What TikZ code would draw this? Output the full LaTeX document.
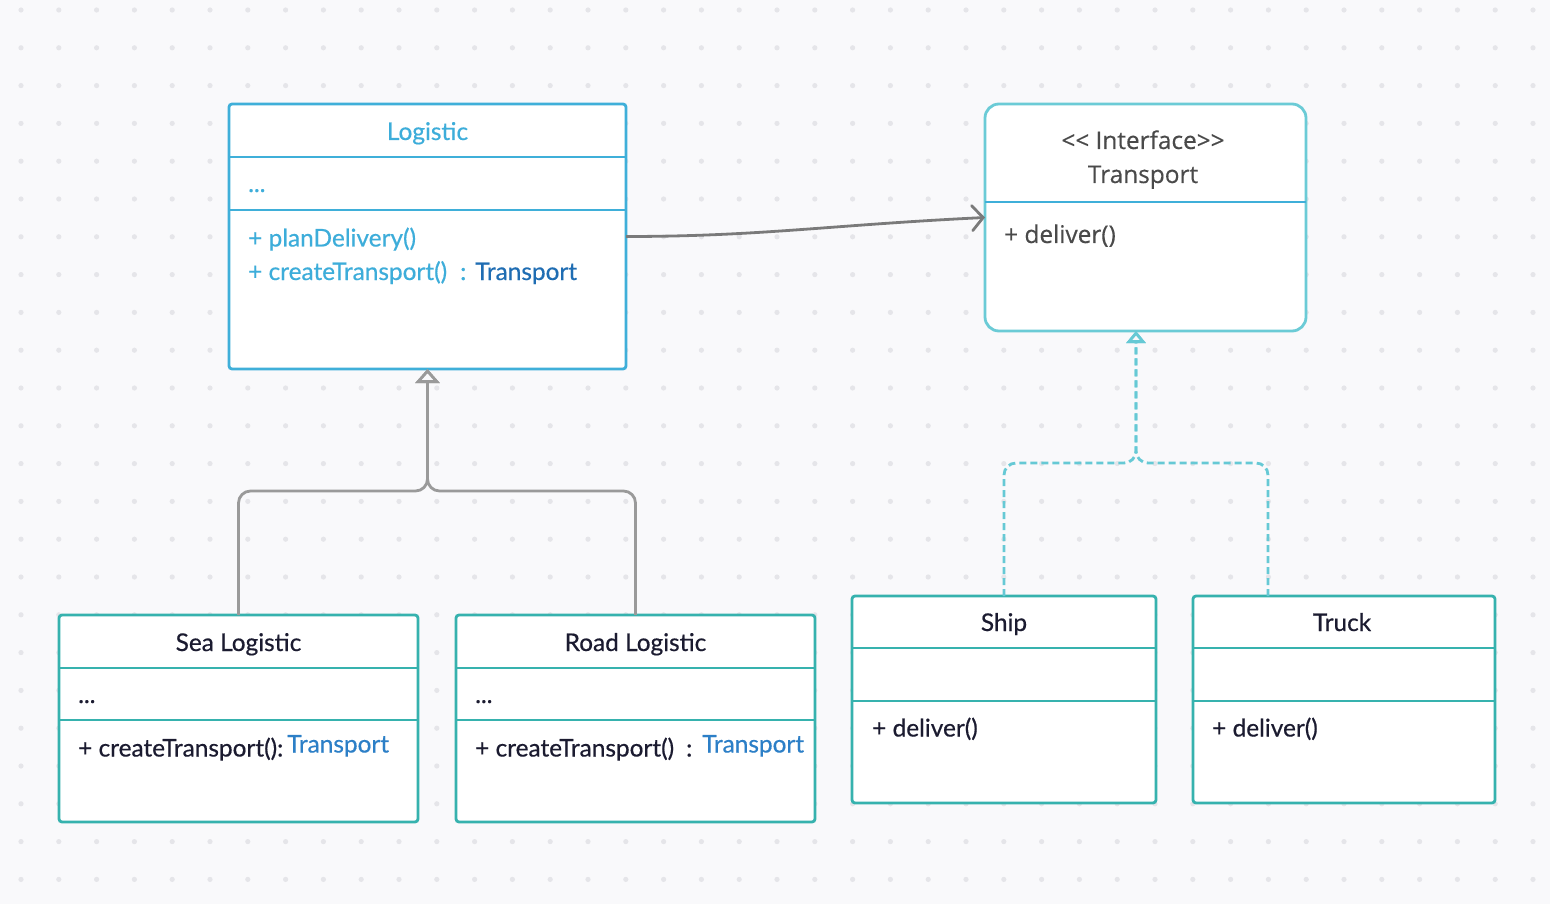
\documentclass[tikz,border=0pt]{standalone}
\usepackage{fontspec}
\setmainfont{Lato}[FakeBold=0.5]
\newfontfamily\osans{Open Sans}[FakeBold=0.3]
\usetikzlibrary{arrows.meta,calc}
\definecolor{bgc}{HTML}{F9F9FB}
\definecolor{dotc}{HTML}{E5E5E9}
\definecolor{lblue}{HTML}{3FAFD9}
\definecolor{ltxt}{HTML}{3DADDA}
\definecolor{dblue}{HTML}{1F6DB3}
\definecolor{mblue}{HTML}{2C7FC7}
\definecolor{teal}{HTML}{36B2AE}
\definecolor{iface}{HTML}{6BCBD6}
\definecolor{dtxt}{HTML}{1B1B30}
\definecolor{gtxt}{HTML}{4A4A4A}
\definecolor{assoc}{HTML}{7A7A7A}
\definecolor{inhc}{HTML}{9A9A9A}
\definecolor{dashc}{HTML}{66C9D5}
\tikzset{
  box/.style={draw, line width=2.8pt, fill=white, rounded corners=3pt, outer sep=0pt, inner sep=0pt, anchor=north west},
  divider/.style={line width=2.8pt},
  txt/.style={inner sep=0pt, anchor=base west, font=\fontsize{24.4}{28}\selectfont},
  ctxt/.style={inner sep=0pt, anchor=base, font=\fontsize{24.4}{28}\selectfont},
  itxt/.style={inner sep=0pt, anchor=base, font=\osans\fontsize{24.4}{28}\selectfont, text=gtxt},
  inh/.style={draw=inhc, line width=2.8pt, rounded corners=12pt, -{Triangle[open, length=14pt, width=24pt, fill=bgc]}},
  real/.style={draw=dashc, line width=2.8pt, rounded corners=12pt, dash pattern=on 7pt off 4pt, -{Triangle[open, length=12pt, width=19pt, fill=bgc]}},
  assocline/.style={draw=assoc, line width=2.8pt, -{Straight Barb[length=11pt, width=25pt, line cap=round]}}
}
\begin{document}
\begin{tikzpicture}[x=1pt, y=-1pt]
\fill[bgc] (0,0) rectangle (1550,904);
\useasboundingbox (0,0) rectangle (1550,904);
\foreach \i in {0,...,40} {
  \foreach \j in {0,...,23} {
    \fill[dotc] ({21+37.8*\i},{10+37.8*\j}) circle (2.6pt);
  }
}
% ---- Logistic ----
\node[box, draw=lblue, minimum width=397pt, minimum height=265pt] (logistic) at (229,104) {};
\draw[divider, lblue] ([yshift=-53pt]logistic.north west) -- ([yshift=-53pt]logistic.north east);
\draw[divider, lblue] ([yshift=-106pt]logistic.north west) -- ([yshift=-106pt]logistic.north east);
\node[ctxt, text=ltxt] (logT) at (427.5,140) {Logistic};
\node[txt, text=ltxt] (logA) at (248,192) {...};
\node[txt, text=ltxt] (logM1) at (248,246.5) {+ planDelivery()};
\node[txt, text=ltxt] (logM2) at (248,280) {+ createTransport()};
\node[txt, text=ltxt] (logC) at (460,280) {:};
\node[txt, text=dblue] (logR) at (475,280) {Transport};
% ---- Transport interface ----
\node[box, draw=iface, rounded corners=14pt, minimum width=321pt, minimum height=227pt] (transport) at (985,104) {};
\draw[divider, lblue] ([yshift=-98pt]transport.north west) -- ([yshift=-98pt]transport.north east);
\node[itxt] (trS) at (1143,149) {<< Interface>>};
\node[itxt] (trT) at (1143,183) {Transport};
\node[txt, font=\osans\fontsize{24.4}{28}\selectfont, text=gtxt] (trM) at (1004,243) {+ deliver()};
% ---- Sea Logistic ----
\node[box, draw=teal, minimum width=359pt, minimum height=207pt] (sea) at (59,615) {};
\draw[divider, teal] ([yshift=-53pt]sea.north west) -- ([yshift=-53pt]sea.north east);
\draw[divider, teal] ([yshift=-105pt]sea.north west) -- ([yshift=-105pt]sea.north east);
\node[ctxt, text=dtxt] (seaT) at (238.5,651) {Sea Logistic};
\node[txt, text=dtxt] (seaA) at (78,703) {...};
\node[txt, text=dtxt] (seaM) at (78,756.5) {+ createTransport():};
\node[txt, text=mblue] (seaR) at (287,752.5) {Transport};
% ---- Road Logistic ----
\node[box, draw=teal, minimum width=359pt, minimum height=207pt] (road) at (456,615) {};
\draw[divider, teal] ([yshift=-53pt]road.north west) -- ([yshift=-53pt]road.north east);
\draw[divider, teal] ([yshift=-105pt]road.north west) -- ([yshift=-105pt]road.north east);
\node[ctxt, text=dtxt] (roadT) at (635.5,651) {Road Logistic};
\node[txt, text=dtxt] (roadA) at (475,703) {...};
\node[txt, text=dtxt] (roadM) at (475,756.5) {+ createTransport()};
\node[txt, text=dtxt] (roadC) at (686,756.5) {:};
\node[txt, text=mblue] (roadR) at (702,752.5) {Transport};
% ---- Ship ----
\node[box, draw=teal, minimum width=304pt, minimum height=207pt] (ship) at (852,596) {};
\draw[divider, teal] ([yshift=-52pt]ship.north west) -- ([yshift=-52pt]ship.north east);
\draw[divider, teal] ([yshift=-105pt]ship.north west) -- ([yshift=-105pt]ship.north east);
\node[ctxt, text=dtxt] (shipT) at (1004,631) {Ship};
\node[txt, text=dtxt] (shipM) at (872,736.5) {+ deliver()};
% ---- Truck ----
\node[box, draw=teal, minimum width=302pt, minimum height=207pt] (truck) at (1193,596) {};
\draw[divider, teal] ([yshift=-52pt]truck.north west) -- ([yshift=-52pt]truck.north east);
\draw[divider, teal] ([yshift=-105pt]truck.north west) -- ([yshift=-105pt]truck.north east);
\node[ctxt, text=dtxt] (truckT) at (1342,631) {Truck};
\node[txt, text=dtxt] (truckM) at (1212,736.5) {+ deliver()};
% ---- connectors ----
\draw[assocline] (logistic.east) .. controls (760,236.5) and (830,225) .. (transport.west);
\coordinate (j1) at (427.5,491);
\draw[inh] (sea.north) |- (j1) -- (logistic.south);
\draw[inh] (road.north) |- (j1) -- (logistic.south);
\coordinate (j2) at (1136,463);
\coordinate (tk) at (1268,596);
\coordinate (tt) at (1136,331);
\draw[real] (ship.north) |- (j2) -- (tt);
\draw[real] (tk) |- (j2) -- (tt);
\end{tikzpicture}
\end{document}
